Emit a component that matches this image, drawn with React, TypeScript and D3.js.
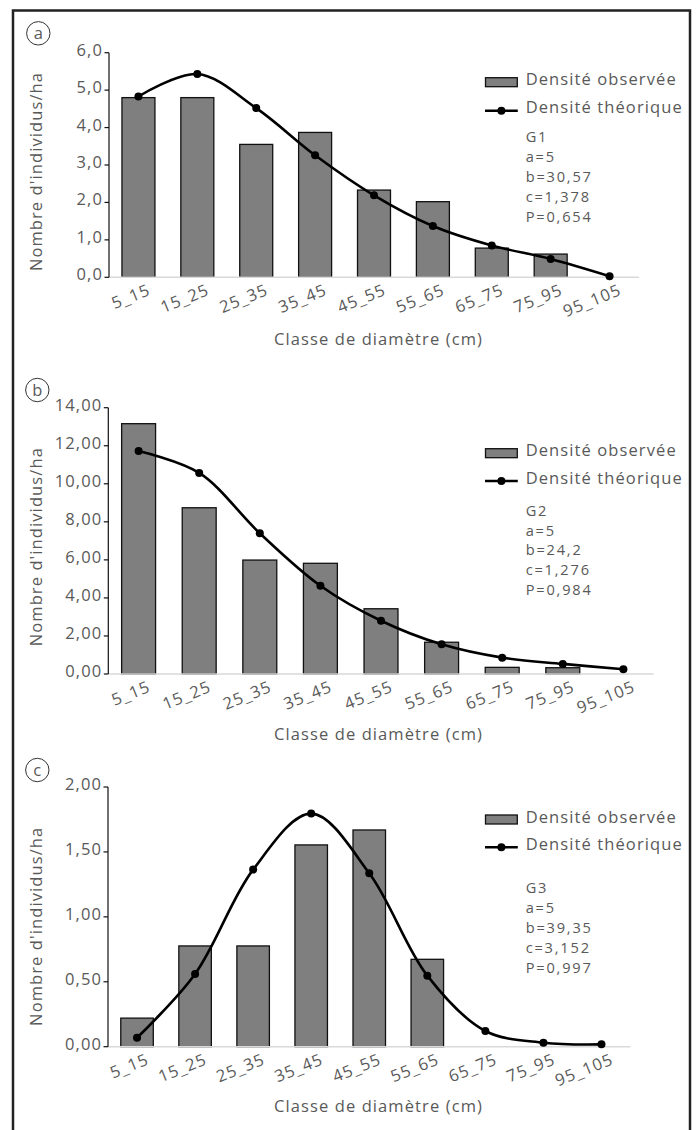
import React from "react";
import * as d3 from "d3";

const categories = ["5_15", "15_25", "25_35", "35_45", "45_55", "55_65", "65_75", "75_95", "95_105"];

const observedA = [4.8, 4.8, 3.55, 3.87, 2.33, 2.02, 0.78, 0.62, 0];
const theoreticalA = [4.83, 5.43, 4.52, 3.26, 2.19, 1.37, 0.85, 0.49, 0.03];
const yTicksA = [0, 1, 2, 3, 4, 5, 6];
const paramsA = ["G1", "a=5", "b=30,57", "c=1,378", "P=0,654"];

const observedB = [13.16, 8.74, 5.99, 5.82, 3.43, 1.67, 0.35, 0.33, 0];
const theoreticalB = [11.72, 10.57, 7.4, 4.64, 2.8, 1.56, 0.86, 0.53, 0.25];
const yTicksB = [0, 2, 4, 6, 8, 10, 12, 14];
const paramsB = ["G2", "a=5", "b=24,2", "c=1,276", "P=0,984"];

const observedC = [0.22, 0.776, 0.776, 1.554, 1.669, 0.673, 0, 0, 0];
const theoreticalC = [0.069, 0.56, 1.364, 1.795, 1.336, 0.547, 0.121, 0.031, 0.018];
const yTicksC = [0, 0.5, 1, 1.5, 2];
const paramsC = ["G3", "a=5", "b=39,35", "c=3,152", "P=0,997"];

const legendObserved = "Densité observée";
const legendTheoretical = "Densité théorique";
const xTitle = "Classe de diamètre (cm)";
const yTitle = "Nombre d'individus/ha";

const FONT = "'Open Sans', 'Noto Sans', sans-serif";
const TEXT = "#595959";
const FS = 16.5;
const LS = 1.1;

type PanelCfg = {
  letter: string;
  observed: number[];
  theoretical: number[];
  ticks: number[];
  decimals: number;
  params: string[];
  x0: number; x1: number; yTop: number; yBottom: number;
  circle: [number, number];
  rectY: number; obsBase: number; lineY: number; theoBase: number;
  paramBase: number; paramStep: number;
  xTitleY: number; yTitleC: number;
};

const panels: PanelCfg[] = [
  {
    letter: "a", observed: observedA, theoretical: theoreticalA, ticks: yTicksA, decimals: 1, params: paramsA,
    x0: 109, x1: 639, yTop: 52.7, yBottom: 277.3, circle: [38.3, 33.3],
    rectY: 77.7, obsBase: 85, lineY: 110.7, theoBase: 113.3, paramBase: 141.7, paramStep: 20,
    xTitleY: 345, yTitleC: 171.5,
  },
  {
    letter: "b", observed: observedB, theoretical: theoreticalB, ticks: yTicksB, decimals: 2, params: paramsB,
    x0: 108.3, x1: 653.7, yTop: 407.7, yBottom: 674, circle: [37.3, 390],
    rectY: 448.7, obsBase: 455.5, lineY: 481, theoBase: 483.5, paramBase: 515.7, paramStep: 19.8,
    xTitleY: 740, yTitleC: 546.7,
  },
  {
    letter: "c", observed: observedC, theoretical: theoreticalC, ticks: yTicksC, decimals: 2, params: paramsC,
    x0: 108, x1: 630.5, yTop: 787, yBottom: 1046.7, circle: [37.3, 770],
    rectY: 815, obsBase: 822.7, lineY: 847.3, theoBase: 849.8, paramBase: 893.3, paramStep: 20,
    xTitleY: 1111.7, yTitleC: 926.3,
  },
];

function Panel({ p }: { p: PanelCfg }) {
  const x = d3.scaleBand<string>().domain(categories).range([p.x0, p.x1]).paddingInner(0.44).paddingOuter(0.22);
  const maxT = p.ticks[p.ticks.length - 1];
  const y = d3.scaleLinear().domain([0, maxT]).range([p.yBottom, p.yTop]);
  const fmt = (v: number) => d3.format(`.${p.decimals}f`)(v).replace(".", ",");
  const cx = (c: string) => (x(c) as number) + x.bandwidth() / 2;
  const line = d3
    .line<number>()
    .x((_, i) => cx(categories[i]))
    .y((v) => y(v))
    .curve(d3.curveCatmullRom.alpha(0.5));
  const legX = 485.5;
  const legW = 31.8;
  const textX = 525.7;
  const common = { fontSize: FS, fill: TEXT, fontFamily: FONT, letterSpacing: LS };
  const paramStyle = { fontSize: 14.6, fill: TEXT, fontFamily: FONT, letterSpacing: 1.8 };
  return (
    <g>
      <circle cx={p.circle[0]} cy={p.circle[1]} r={11.7} fill="none" stroke="#333" strokeWidth={1} />
      <text x={p.circle[0]} y={p.circle[1] + 5.5} textAnchor="middle" fontSize={FS} fill={TEXT} fontFamily={FONT}>
        {p.letter}
      </text>
      {p.observed.map((v, i) =>
        v > 0 ? (
          <rect
            key={i}
            x={x(categories[i])}
            y={y(v)}
            width={x.bandwidth()}
            height={y(0) - y(v)}
            fill="#7f7f7f"
            stroke="#111"
            strokeWidth={1.3}
          />
        ) : null
      )}
      <line x1={p.x0} x2={p.x1} y1={p.yBottom} y2={p.yBottom} stroke="#d9d9d9" strokeWidth={1.5} />
      <line x1={p.x0} x2={p.x0} y1={p.yTop} y2={p.yBottom} stroke="#111" strokeWidth={1.2} />
      {p.ticks.map((t) => (
        <g key={t}>
          <line x1={p.x0 - 4.5} x2={p.x0} y1={y(t)} y2={y(t)} stroke="#111" strokeWidth={1.2} />
          <text x={p.x0 - 6} y={y(t) + 3} textAnchor="end" {...common}>
            {fmt(t)}
          </text>
        </g>
      ))}
      {categories.map((c) => {
        const ax = cx(c) + 13;
        const ay = p.yBottom + 17;
        return (
          <text key={c} x={ax} y={ay} textAnchor="end" transform={`rotate(-22 ${ax} ${ay})`} {...common}>
            {c}
          </text>
        );
      })}
      <path d={line(p.theoretical) || ""} fill="none" stroke="#000" strokeWidth={2.6} />
      {p.theoretical.map((v, i) => (
        <circle key={i} cx={cx(categories[i])} cy={y(v)} r={4} fill="#000" />
      ))}
      <text x={378.5} y={p.xTitleY} textAnchor="middle" {...common}>
        {xTitle}
      </text>
      <text x={42} y={p.yTitleC} textAnchor="middle" transform={`rotate(-90 42 ${p.yTitleC})`} {...common}>
        {yTitle}
      </text>
      <rect x={legX} y={p.rectY} width={legW} height={9} fill="#7f7f7f" stroke="#111" strokeWidth={1.3} />
      <text x={textX} y={p.obsBase} {...common}>
        {legendObserved}
      </text>
      <line x1={legX - 0.5} x2={legX + legW + 0.5} y1={p.lineY} y2={p.lineY} stroke="#000" strokeWidth={2.6} />
      <circle cx={legX + legW / 2} cy={p.lineY} r={4} fill="#000" />
      <text x={textX} y={p.theoBase} {...common}>
        {legendTheoretical}
      </text>
      {p.params.map((s, i) => (
        <text key={s} x={textX} y={p.paramBase + i * p.paramStep} {...paramStyle}>
          {s}
        </text>
      ))}
    </g>
  );
}

export default function App() {
  return (
    <svg
      width={698}
      height={1130}
      viewBox="0 0 698 1130"
      style={{ position: "absolute", left: 0, top: 0, display: "block", background: "#fff" }}
    >
      <rect x={0} y={0} width={698} height={1130} fill="#fff" />
      <rect x={13} y={10.5} width={677} height={1122} fill="none" stroke="#222" strokeWidth={2.5} />
      {panels.map((p) => (
        <Panel key={p.letter} p={p} />
      ))}
    </svg>
  );
}
